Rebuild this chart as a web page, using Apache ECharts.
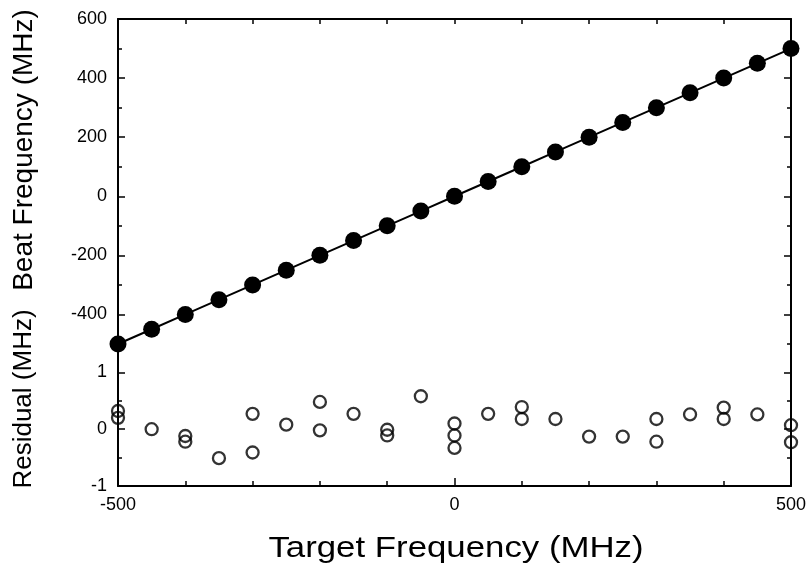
<!DOCTYPE html>
<html>
<head>
<meta charset="utf-8">
<script src="https://cdn.jsdelivr.net/npm/echarts@6/dist/echarts.min.js"></script>
<style>
html,body{margin:0;padding:0;background:#fff;}
#main{width:810px;height:569px;}
</style>
</head>
<body>
<div id="main"></div>
<script>
// ---- data ----
const targetFreq = [-500,-450,-400,-350,-300,-250,-200,-150,-100,-50,0,50,100,150,200,250,300,350,400,450,500];
const beatFreq   = [-500,-450,-400,-350,-300,-250,-200,-150,-100,-50,0,50,100,150,200,250,300,350,400,450,500];
const residX = [-500,-500,-450,-400,-400,-350,-300,-300,-250,-200,-200,-150,-100,-100,-50,0,0,0,50,100,100,150,200,250,300,300,350,400,400,450,500,500];
const residY = [0.32,0.20,0.00,-0.12,-0.22,-0.51,0.27,-0.41,0.08,0.48,-0.02,0.27,-0.01,-0.11,0.58,0.10,-0.11,-0.33,0.27,0.39,0.18,0.18,-0.13,-0.13,0.18,-0.22,0.26,0.38,0.18,0.26,0.07,-0.23];
const beatTicks = [-400,-200,0,200,400,600];
const beatMinor = [-500,-300,-100,100,300,500];
const resTicks = [-1,0,1];
const resMinor = [-0.5,0.5];
const xTickLabels = [-500,0,500];

const FONT = 'Liberation Sans, Arial, Helvetica, sans-serif';
const lineStyle = {color:'#000', width:2};

function yAx(grid, pos, min, max, ticks, len, showLine, labels) {
  return {
    type:'value', gridIndex:grid, position:pos, min:min, max:max,
    axisLine:{show:showLine, onZero:false, lineStyle:lineStyle},
    axisTick:{show:true, inside:true, length:len, customValues:ticks, lineStyle:{color:'#000', width:1.5}},
    axisLabel:{show:!!labels, customValues:ticks, margin:11, color:'#000', fontSize:18, fontFamily:FONT},
    splitLine:{show:false}
  };
}

const option = {
  backgroundColor:'#fff',
  animation:false,
  grid:[
    {left:118, right:19, top:19, height:325},
    {left:118, right:19, top:344, height:142}
  ],
  xAxis:[
    {type:'value', gridIndex:0, position:'top', min:-500, max:500, interval:100,
     axisLine:{show:true, onZero:false, lineStyle:lineStyle},
     axisTick:{show:true, inside:true, length:5, lineStyle:{color:'#000', width:1.5}},
     axisLabel:{show:false}, splitLine:{show:false}},
    {type:'value', gridIndex:1, position:'bottom', min:-500, max:500, interval:100,
     axisLine:{show:true, onZero:false, lineStyle:lineStyle},
     axisTick:{show:true, inside:true, length:5, lineStyle:{color:'#000', width:1.5}},
     axisLabel:{show:true, customValues:xTickLabels, margin:10, color:'#000', fontSize:18, fontFamily:FONT},
     splitLine:{show:false}},
    {type:'value', gridIndex:1, position:'bottom', min:-500, max:500,
     axisLine:{show:false, onZero:false},
     axisTick:{show:true, inside:true, length:8, customValues:[0], lineStyle:{color:'#000', width:1.5}},
     axisLabel:{show:false}, splitLine:{show:false}}
  ],
  yAxis:[
    yAx(0,'left',-500,600,beatTicks,7,true,true),
    yAx(0,'left',-500,600,beatMinor,4,false,false),
    yAx(0,'right',-500,600,beatTicks,7,true,false),
    yAx(0,'right',-500,600,beatMinor,4,false,false),
    yAx(1,'left',-1,1.5,resTicks,7,true,true),
    yAx(1,'left',-1,1.5,resMinor,4,false,false),
    yAx(1,'right',-1,1.5,resTicks,7,true,false),
    yAx(1,'right',-1,1.5,resMinor,4,false,false)
  ],
  series:[
    {type:'line', xAxisIndex:0, yAxisIndex:0, clip:false,
     data: targetFreq.map((x,i)=>[x, beatFreq[i]]),
     symbol:'circle', symbolSize:17, showAllSymbol:true,
     itemStyle:{color:'#000'}, lineStyle:{color:'#000', width:2}},
    {type:'scatter', xAxisIndex:1, yAxisIndex:4, clip:false,
     data: residX.map((x,i)=>[x, residY[i]]),
     symbol:'circle', symbolSize:12,
     itemStyle:{color:'rgba(0,0,0,0)', borderColor:'#000', borderWidth:2.3}}
  ],
  graphic:[
    {type:'text', x:24, y:150, rotation:Math.PI/2,
     style:{text:'Beat Frequency (MHz)', font:'28px '+FONT, fill:'#000', textAlign:'center', textVerticalAlign:'middle'}},
    {type:'text', x:24, y:399, rotation:Math.PI/2,
     style:{text:'Residual (MHz)', font:'26px '+FONT, fill:'#000', textAlign:'center', textVerticalAlign:'middle'}},
    {type:'text', x:456, y:549, scaleX:1.2,
     style:{text:'Target Frequency (MHz)', font:'29px '+FONT, fill:'#000', textAlign:'center', textVerticalAlign:'middle'}}
  ]
};

const chart = echarts.init(document.getElementById('main'), null, {renderer:'canvas'});
chart.setOption(option);
</script>
</body>
</html>
